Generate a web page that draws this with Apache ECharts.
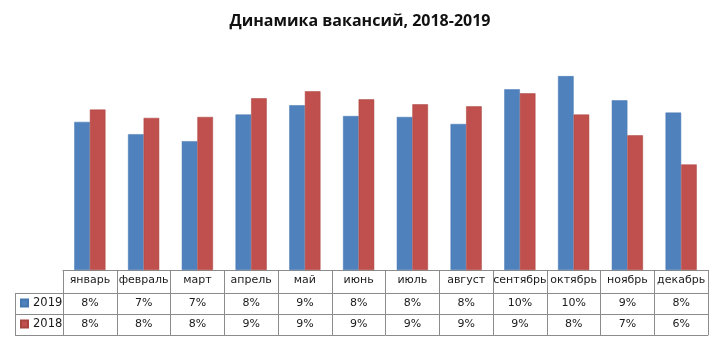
<!DOCTYPE html>
<html>
<head>
<meta charset="utf-8">
<script src="https://cdn.jsdelivr.net/npm/echarts@6/dist/echarts.min.js"></script>
<style>
  html, body { margin: 0; padding: 0; background: #fff; }
  #chart { width: 720px; height: 337px; }
</style>
</head>
<body>
<div id="chart"></div>
<script>
// Monthly vacancy share, percent
const months = ['январь', 'февраль', 'март', 'апрель', 'май', 'июнь',
                'июль', 'август', 'сентябрь', 'октябрь', 'ноябрь', 'декабрь'];
const values2019 = [7.83, 7.18, 6.81, 8.22, 8.71, 8.14, 8.09, 7.72, 9.55, 10.25, 8.97, 8.32];
const values2018 = [8.48, 8.04, 8.09, 9.08, 9.45, 9.02, 8.76, 8.65, 9.34, 8.22, 7.12, 5.58];
const seriesNames = ['2019', '2018'];

const BLUE = '#4F81BD';
const RED = '#C0504D';
const BORDER = '#8c8c8c';
const FONT = 'DejaVu Sans';

const gridLeft = 63, gridRight = 12, gridBottom = 67;
const rowH = [23, 21, 21];
const baseY = 337 - gridBottom;

const pct = v => Math.round(v) + '%';

// one x axis per table row: its line is the row's top border, its ticks are the cell separators
function tableAxis(offset, tickLen, labelFn) {
  return {
    type: 'category',
    data: months,
    position: 'bottom',
    offset: offset,
    axisLine: { show: true, lineStyle: { color: BORDER, width: 1 } },
    axisTick: { show: tickLen > 0, length: tickLen, interval: 0, lineStyle: { color: BORDER } },
    axisLabel: labelFn ? {
      show: true, interval: 0, margin: 5, fontFamily: FONT, fontSize: 11, color: '#1a1a1a',
      formatter: labelFn
    } : { show: false },
    splitLine: { show: false }
  };
}

const chart = echarts.init(document.getElementById('chart'), null, { renderer: 'canvas' });

const y1 = baseY + rowH[0];
const y2 = y1 + rowH[1];
const y3 = y2 + rowH[2];
const legendX = 15;

// a one-item legend in each data row's first cell
function rowLegend(name, top) {
  return {
    left: 20,
    top: top,
    padding: 0,
    itemWidth: 7,
    itemHeight: 7,
    itemGap: 0,
    icon: 'rect',
    data: [name],
    textStyle: { fontFamily: FONT, fontSize: 11.5, color: '#1a1a1a' },
    selectedMode: false
  };
}

chart.setOption({
  animation: false,
  title: {
    text: 'Динамика вакансий, 2018-2019',
    left: 'center',
    top: 8,
    textStyle: { fontFamily: 'Open Sans', fontWeight: 'bold', fontSize: 16, color: '#111' }
  },
  legend: [
    rowLegend(seriesNames[0], y1 + 4),
    rowLegend(seriesNames[1], y2 + 4)
  ],
  grid: { left: gridLeft, right: gridRight, top: 43, bottom: gridBottom },
  xAxis: [
    tableAxis(0, rowH[0], v => v),
    tableAxis(rowH[0], rowH[1], (v, i) => pct(values2019[i])),
    tableAxis(rowH[0] + rowH[1], rowH[2], (v, i) => pct(values2018[i])),
    tableAxis(rowH[0] + rowH[1] + rowH[2], 0, null)
  ],
  yAxis: { type: 'value', min: 0, max: 12, show: false, splitLine: { show: false } },
  series: [
    {
      name: seriesNames[0], type: 'bar', data: values2019,
      barGap: '0%', barCategoryGap: '42%',
      itemStyle: { color: BLUE, borderColor: '#4476b0', borderWidth: 0.5 }
    },
    {
      name: seriesNames[1], type: 'bar', data: values2018,
      itemStyle: { color: RED, borderColor: '#a8433f', borderWidth: 0.5 }
    }
  ],
  graphic: [
    // legend column borders, left of the table body
    { type: 'line', shape: { x1: legendX, y1: y1 + 0.5, x2: gridLeft, y2: y1 + 0.5 }, style: { stroke: BORDER, lineWidth: 1 } },
    { type: 'line', shape: { x1: legendX, y1: y2 + 0.5, x2: gridLeft, y2: y2 + 0.5 }, style: { stroke: BORDER, lineWidth: 1 } },
    { type: 'line', shape: { x1: legendX, y1: y3 + 0.5, x2: gridLeft, y2: y3 + 0.5 }, style: { stroke: BORDER, lineWidth: 1 } },
    { type: 'line', shape: { x1: legendX + 0.5, y1: y1, x2: legendX + 0.5, y2: y3 + 1 }, style: { stroke: BORDER, lineWidth: 1 } }
  ]
});
</script>
</body>
</html>
